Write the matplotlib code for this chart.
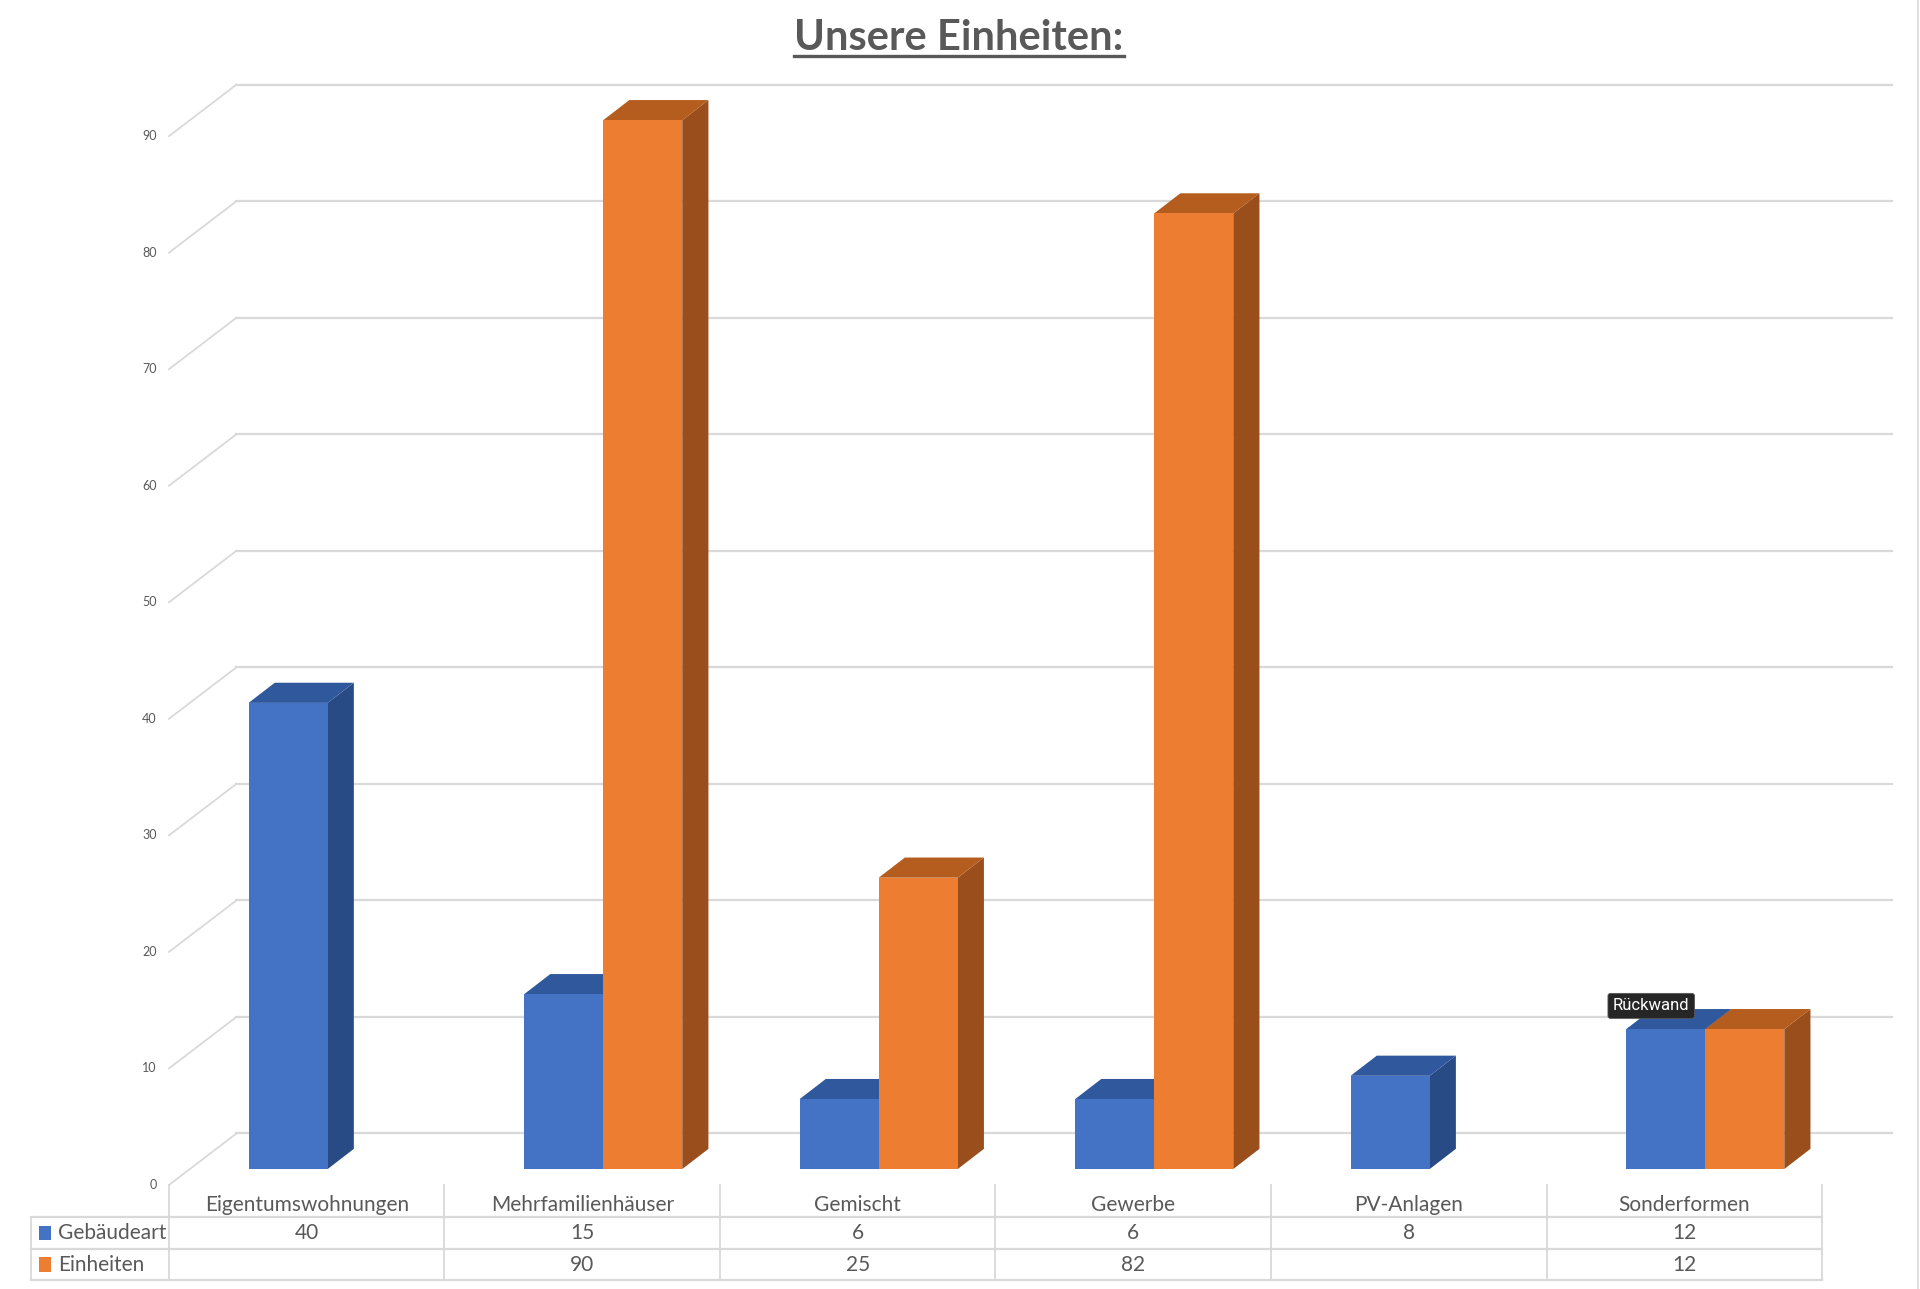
import matplotlib
matplotlib.use("Agg")
import matplotlib.pyplot as plt
import matplotlib.transforms as mtransforms
from matplotlib.patches import Polygon, Rectangle
from matplotlib.lines import Line2D
import numpy as np

# data
categories = ["Eigentumswohnungen", "Mehrfamilienhäuser", "Gemischt", "Gewerbe", "PV-Anlagen", "Sonderformen"]
series_names = ["Gebäudeart", "Einheiten"]
gebaeudeart = [40, 15, 6, 6, 8, 12]
einheiten = [None, 90, 25, 82, None, 12]
y_ticks = [0, 10, 20, 30, 40, 50, 60, 70, 80, 90]

# colours (front, top, side)
BLUE = ("#4472C4", "#30589C", "#284A85")
ORANGE = ("#ED7D31", "#B55D1F", "#9A4E1C")
TEXT = "#595959"
GRID = "#D9D9D9"
FONT = "Lato"

# 3d-ish geometry in data units (x: category, y: value)
bar_w = 0.287
bar_off = [-0.211, 0.076]
bar_dx, bar_dv = 0.095, 1.73
floor_front = -1.366
wall_left_front = -0.5
wall_dx, wall_dv = 0.245, 4.42
wall_right = 5.753

plt.rcParams["font.family"] = [FONT, "DejaVu Sans"]
fig = plt.figure(figsize=(19.2, 12.89), dpi=100)
ax = fig.add_axes([0, 0, 1, 1])
ax.set_xlim(-1.1133, 5.8556)
ax.set_ylim(-10.294, 100.315)
ax.axis("off")

#- back wall ------------------------------------------------------------
for t in y_ticks:
    vf = floor_front + t
    vb = vf + wall_dv
    ax.plot([wall_left_front, wall_left_front + wall_dx], [vf, vb], color=GRID, lw=1.3, zorder=1)
    ax.plot([wall_left_front + wall_dx, wall_right], [vb, vb], color=GRID, lw=1.6, zorder=1)
    ax.text(wall_left_front - 0.044, vf, str(t), ha="right", va="center",
            fontsize=9, color=TEXT)

#- bars -----------------------------------------------------------------
def bar3d(x0, h, cols):
    x1 = x0 + bar_w
    front = Polygon([(x0, 0), (x1, 0), (x1, h), (x0, h)], closed=True, fc=cols[0], ec="none", zorder=3)
    top = Polygon([(x0, h), (x0 + bar_dx, h + bar_dv), (x1 + bar_dx, h + bar_dv), (x1, h)],
                  closed=True, fc=cols[1], ec="none", zorder=3)
    side = Polygon([(x1, 0), (x1 + bar_dx, bar_dv), (x1 + bar_dx, h + bar_dv), (x1, h)],
                   closed=True, fc=cols[2], ec="none", zorder=3)
    for p in (side, top, front):
        ax.add_patch(p)

for i in range(len(categories)):
    for s, (vals, cols) in enumerate([(gebaeudeart, BLUE), (einheiten, ORANGE)]):
        if vals[i] is not None:
            bar3d(i + bar_off[s], vals[i], cols)

#- data table -----------------------------------------------------------
tr = mtransforms.blended_transform_factory(ax.transData, ax.transAxes)
rows_y = [0.0807, 0.0560, 0.0313, 0.0066]
n = len(categories)
col_edges = [i - 0.5 for i in range(n + 1)]
left_edge = -1.002

for xe in col_edges:
    ax.add_line(Line2D([xe, xe], [rows_y[0], rows_y[3]], transform=tr, color=GRID, lw=1.3))
ax.add_line(Line2D([left_edge, left_edge], [rows_y[1], rows_y[3]], transform=tr, color=GRID, lw=1.3))
for ry in rows_y[1:]:
    ax.add_line(Line2D([left_edge, col_edges[-1]], [ry, ry], transform=tr, color=GRID, lw=1.6))

def mid(a, b):
    return (a + b) / 2

for i, c in enumerate(categories):
    ax.text(i, mid(rows_y[0], rows_y[1]) - 0.003, c, transform=tr, ha="center", va="center",
            fontsize=15, color=TEXT)
for r, (name, vals, cols) in enumerate([(series_names[0], gebaeudeart, BLUE),
                                        (series_names[1], einheiten, ORANGE)]):
    yc = mid(rows_y[r + 1], rows_y[r + 2])
    ax.add_patch(Rectangle((-0.972, yc - 0.0055), 0.045, 0.011, transform=tr, fc=cols[0], ec="none"))
    ax.text(-0.904, yc, name, transform=tr, ha="left", va="center", fontsize=15, color=TEXT)
    for i, v in enumerate(vals):
        if v is not None:
            ax.text(i, yc, str(v), transform=tr, ha="center", va="center", fontsize=15, color=TEXT)

#- tooltip --------------------------------------------------------------
ax.text(4.88, 14.0, "Rückwand", ha="center", va="center", fontsize=12, color="white",
        family="Roboto", zorder=6,
        bbox=dict(boxstyle="round,pad=0.3,rounding_size=0.15", fc="#262626", ec="#555555", lw=0.6))

#- title with underline -------------------------------------------------
title = fig.text(0.4995, 1 - 38 / 1289, "Unsere Einheiten:", ha="center", va="center",
                 fontsize=30, fontweight="bold", color=TEXT)
fig.canvas.draw()
bb = title.get_window_extent()
fig.add_artist(Line2D([bb.x0, bb.x1], [bb.y0 + 1, bb.y0 + 1], transform=None, color=TEXT, lw=2.4))

# right frame edge
fig.add_artist(Line2D([0.999, 0.999], [0, 1], transform=fig.transFigure, color=GRID, lw=1.2))

fig.savefig("out.png", dpi=100, facecolor="white")
